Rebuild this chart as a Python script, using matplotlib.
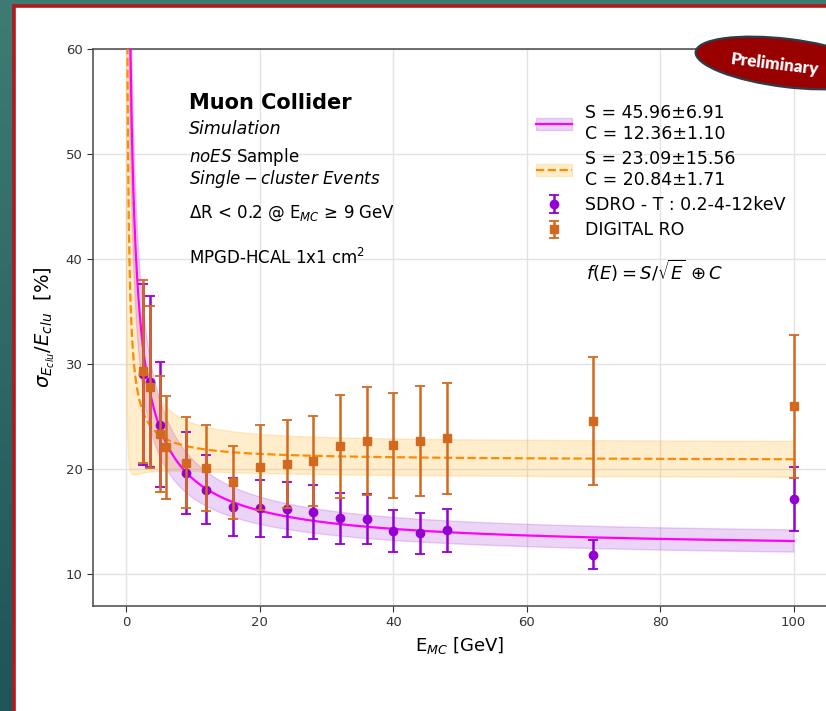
import numpy as np
import matplotlib
matplotlib.use("Agg")
from matplotlib import pyplot as plt
from matplotlib.patches import Rectangle, Ellipse, Patch
from matplotlib.lines import Line2D

# SDRO - T points
e_sdro = [2.5, 3.5, 5, 9, 12, 16, 20, 24, 28, 32, 36, 40, 44, 48, 70, 100]
res_sdro = [29.05, 28.35, 24.26, 19.63, 18.08, 16.43, 16.3, 16.2, 15.94, 15.33, 15.27,
            14.13, 13.9, 14.2, 11.9, 17.2]
err_sdro = [8.6, 8.1, 5.95, 3.9, 3.3, 2.73, 2.7, 2.6, 2.55, 2.4, 2.35, 2.0, 1.95, 2.03, 1.42, 3.03]

# DIGITAL RO points
e_dig = [2.5, 3.5, 5, 6, 9, 12, 16, 20, 24, 28, 32, 36, 40, 44, 48, 70, 100]
res_dig = [29.32, 27.8, 23.37, 22.1, 20.65, 20.1, 18.77, 20.2, 20.5, 20.8, 22.2, 22.7,
           22.3, 22.7, 22.95, 24.6, 26.0]
err_dig = [8.7, 7.7, 5.5, 4.9, 4.3, 4.1, 3.5, 4.06, 4.2, 4.3, 4.9, 5.1, 5.0, 5.2, 5.3, 6.07, 6.8]

# fit results f(E) = S/sqrt(E) (+) C
S1, dS1, C1, dC1 = 45.96, 6.91, 12.36, 1.10
S2, dS2, C2, dC2 = 23.09, 15.56, 20.84, 1.71


def reso(E, S, C):
    return np.sqrt(S**2 / E + C**2)


def reso_err(E, S, dS, C, dC):
    f = reso(E, S, C)
    return np.sqrt((S * dS / (E * f))**2 + (C * dC / f)**2)


W, H = 826, 711
fig = plt.figure(figsize=(W / 100, H / 100), dpi=100)

# slide background (teal, red frame, white page)
bg = fig.add_axes([0, 0, 1, 1], zorder=0)
bg.set_xlim(0, W)
bg.set_ylim(H, 0)
bg.axis("off")
grad = np.linspace(0, 1, 256).reshape(-1, 1)
bg.imshow(grad, extent=[0, W, H, 0], aspect="auto",
          cmap=matplotlib.colors.LinearSegmentedColormap.from_list("t", ["#3e7c73", "#1f5459"]))
bg.add_patch(Rectangle((13.5, 5.5), W + 20, H + 20, facecolor="white",
                       edgecolor="#b3191c", linewidth=2.6))

ax = fig.add_axes([93 / W, (H - 606) / H, (827 - 93) / W, (606 - 49) / H], zorder=1)
ax.set_facecolor("none")

E = np.linspace(0.03, 100, 3000)
f1 = reso(E, S1, C1)
s1 = reso_err(E, S1, dS1, C1, dC1)
f2 = reso(E, S2, C2)
s2 = reso_err(E, S2, dS2, C2, dC2)

ax.fill_between(E, f1 - s1, f1 + s1, color="darkviolet", alpha=0.17, zorder=1)
ax.plot(E, f1, color="magenta", lw=1.6, zorder=3)
ax.fill_between(E, f2 - s2, f2 + s2, color="orange", alpha=0.2, zorder=1)
ax.plot(E, f2, color="darkorange", lw=1.6, ls="--", zorder=3)

h_sdro = ax.errorbar(e_sdro, res_sdro, yerr=err_sdro, fmt="o", color="darkviolet", ms=6,
                     elinewidth=1.8, capsize=3.5, capthick=1.3, zorder=4)
h_dig = ax.errorbar(e_dig, res_dig, yerr=err_dig, fmt="s", color="#d2691e", ms=5.5,
                    elinewidth=1.8, capsize=3.5, capthick=1.3, zorder=5)

ax.set_xlim(-5, 105)
ax.set_ylim(7, 60)
ax.set_xticks([0, 20, 40, 60, 80, 100])
ax.set_yticks([10, 20, 30, 40, 50, 60])
ax.grid(True, color="#e3e3e3", lw=1)
ax.set_axisbelow(True)
for sp in ax.spines.values():
    sp.set_color("#555555")
    sp.set_linewidth(1.2)
ax.tick_params(labelsize=9.5, colors="#333333", length=4)
ax.set_xlabel("E$_{MC}$ [GeV]", fontsize=13)
ax.set_ylabel(r"$\sigma_{E_{clu}}/E_{clu}$  [%]", fontsize=14, labelpad=6)

# info text
tx = dict(transform=ax.transAxes, va="center", ha="left", color="black")
ax.text(0.1308, 0.903, "Muon Collider", fontsize=15, fontweight="bold", **tx)
ax.text(0.1308, 0.856, "Simulation", fontsize=12.5, style="italic", **tx)
ax.text(0.1308, 0.806, "$noES$ Sample", fontsize=12, **tx)
ax.text(0.1308, 0.767, r"$Single-cluster\ Events$", fontsize=12, **tx)
ax.text(0.1308, 0.706, "ΔR < 0.2 @ E$_{MC}$ ≥ 9 GeV", fontsize=12, **tx)
ax.text(0.1308, 0.625, "MPGD-HCAL 1x1 cm$^2$", fontsize=12, **tx)

band1 = (Patch(facecolor="darkviolet", alpha=0.17, edgecolor="darkviolet"),
         Line2D([], [], color="magenta", lw=1.6))
band2 = (Patch(facecolor="orange", alpha=0.2, edgecolor="orange"),
         Line2D([], [], color="darkorange", lw=1.6, ls="--"))
leg = ax.legend([band1, band2, h_sdro, h_dig],
                [f"S = {S1:.2f}±{dS1:.2f}\nC = {C1:.2f}±{dC1:.2f}",
                 f"S = {S2:.2f}±{dS2:.2f}\nC = {C2:.2f}±{dC2:.2f}",
                 "SDRO - T : 0.2-4-12keV", "DIGITAL RO"],
                loc="upper left", bbox_to_anchor=(536 / W, 1 - 104 / H),
                bbox_transform=fig.transFigure, frameon=False, fontsize=12.5,
                borderpad=0, borderaxespad=0, handlelength=2.1, handletextpad=0.75,
                labelspacing=0.42)
fig.text(586 / W, 1 - 271 / H, r"$f(E) = S/\sqrt{E}\, \oplus C$", fontsize=13,
         va="center", ha="left")

# "Preliminary" badge
top = fig.add_axes([0, 0, 1, 1], zorder=3)
top.set_xlim(0, W)
top.set_ylim(0, H)
top.axis("off")
top.add_patch(Ellipse((787, H - 63), 184, 48, angle=-7, facecolor="#990000",
                      edgecolor="#2f3d4a", linewidth=1.6))
top.text(775, H - 64, "Preliminary", color="white", fontsize=12.3, fontweight="heavy",
         rotation=-7, ha="center", va="center",
         family=["Liberation Sans Narrow", "Lato", "DejaVu Sans"])

fig.savefig("out.png", dpi=100)
